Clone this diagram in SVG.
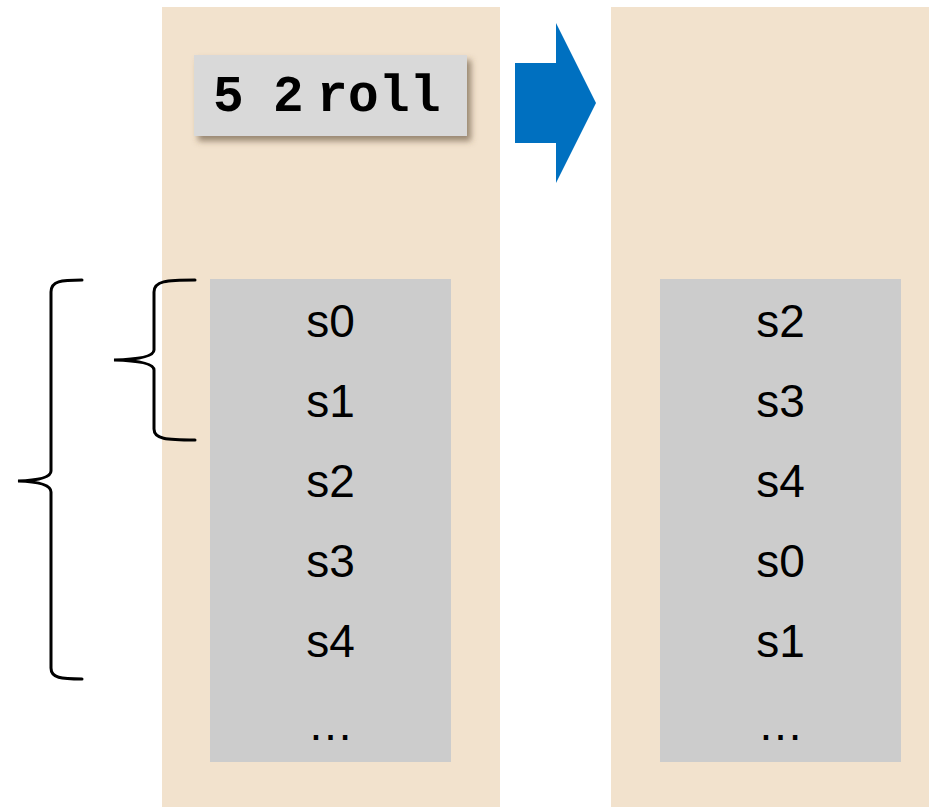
<svg xmlns="http://www.w3.org/2000/svg" width="929" height="807" viewBox="0 0 929 807">
  <defs>
    <filter id="shadow" x="-10%" y="-20%" width="125%" height="150%">
      <feDropShadow dx="4" dy="5" stdDeviation="3" flood-color="#5a4a30" flood-opacity="0.6"/>
    </filter>
    <style>
      .panel { fill: #F2E2CD; }
      .stack { fill: #CCCCCC; }
      .cell { font-family: "Liberation Sans", Arial, sans-serif; font-size: 46px; fill: #000; text-anchor: middle; }
      .cmd { font-family: "Liberation Mono", "Courier New", monospace; font-weight: bold; font-size: 51px; fill: #000; }
      .brace { fill: none; stroke: #000; stroke-width: 3; stroke-linecap: round; }
    </style>
  </defs>
  <rect width="929" height="807" fill="#FFFFFF"/>

  <!-- before: stack prior to the operator -->
  <g id="panel-before">
    <rect class="panel" x="162" y="7" width="338" height="800"/>
    <rect class="stack" x="210" y="279" width="241" height="483"/>
    <text class="cell" x="330.5" y="337">s0</text>
    <text class="cell" x="330.5" y="417">s1</text>
    <text class="cell" x="330.5" y="497">s2</text>
    <text class="cell" x="330.5" y="577">s3</text>
    <text class="cell" x="330.5" y="657">s4</text>
    <text class="cell" x="330.5" y="740">…</text>
  </g>

  <!-- operator box -->
  <g id="command">
    <rect x="194" y="55" width="273" height="81" fill="#D9D9D9" filter="url(#shadow)"/>
    <text class="cmd" x="213 243 273 303 317 348 379 410" y="111">5 2 roll</text>
  </g>

  <!-- after: stack once rolled -->
  <g id="panel-after">
    <rect class="panel" x="611" y="7" width="318" height="800"/>
    <rect class="stack" x="660" y="279" width="241" height="483"/>
    <text class="cell" x="780.5" y="337">s2</text>
    <text class="cell" x="780.5" y="417">s3</text>
    <text class="cell" x="780.5" y="497">s4</text>
    <text class="cell" x="780.5" y="577">s0</text>
    <text class="cell" x="780.5" y="657">s1</text>
    <text class="cell" x="780.5" y="740">…</text>
  </g>

  <!-- transition arrow -->
  <g id="arrow">
    <polygon points="515,63 556,63 556,23 596,103 556,183 556,143 515,143" fill="#0070C0"/>
  </g>

  <!-- braces marking roll depth (5) and shift (2) -->
  <g id="connectors">
    <path class="brace" d="M195,280 C166,280 154,281 154,292 L154,350 Q154,359 114,360 Q154,361 154,370 L154,429 C154,439 166,440 195,440"/>
    <path class="brace" d="M82,280 C61,280 51,281 51,292 L51,471 Q51,480 18,481 Q51,482 51,492 L51,668 C51,678 61,679 82,679"/>
  </g>
</svg>
